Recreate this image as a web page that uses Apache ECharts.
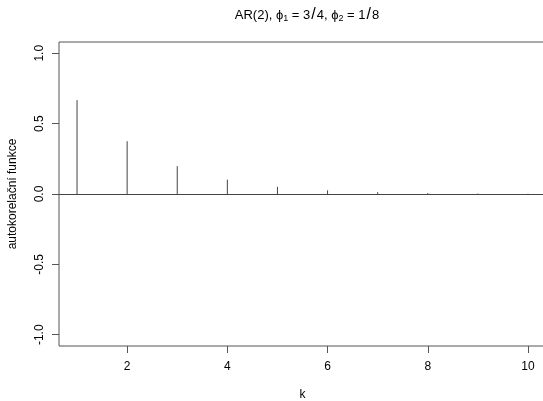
<!DOCTYPE html>
<html>
<head>
<meta charset="utf-8">
<script src="https://cdn.jsdelivr.net/npm/echarts@6/dist/echarts.min.js"></script>
<style>html,body{margin:0;padding:0;background:#fff}#c{width:543px;height:401px}</style>
</head>
<body>
<div id="c"></div>
<script>
var lags = [1, 2, 3, 4, 5, 6, 7, 8, 9, 10];
var acf = [0.667, 0.375, 0.198, 0.102, 0.051, 0.026, 0.013, 0.0065, 0.0033, 0.0017];
var xTicks = [2, 4, 6, 8, 10];
var yTicks = [-1, -0.5, 0, 0.5, 1];

var chart = echarts.init(document.getElementById('c'), null, {renderer: 'canvas'});
var font = 'Liberation Sans, Arial, sans-serif';
var data = lags.map(function (k, i) { return [k, acf[i]]; });

chart.setOption({
  animation: false,
  backgroundColor: '#fff',
  title: {
    text: '{n|AR(2), ϕ}{s|1}{n| = 3}{sl|/}{n|4, ϕ}{s|2}{n| = 1}{sl|/}{n|8}',
    left: 302, top: 2, textAlign: 'center',
    textStyle: {
      fontWeight: 'normal',
      rich: {
        n: {fontFamily: font, fontSize: 13, fontWeight: 'normal', color: '#000'},
        s: {fontFamily: font, fontSize: 9, fontWeight: 'normal', color: '#000', verticalAlign: 'bottom', padding: [6, 0, 0, 0]},
        sl: {fontFamily: font, fontSize: 16, fontWeight: 'normal', color: '#000', padding: [0, 1, 0, 1]}
      }
    }
  },
  grid: {left: 59, right: -3, top: 42, bottom: 55, outerBoundsMode: 'none', containLabel: false,
    show: true, borderColor: '#555', borderWidth: 1, backgroundColor: 'transparent'},
  xAxis: {
    type: 'value', min: 0.64, max: 10.36,
    name: 'k', nameLocation: 'middle', nameGap: 43,
    nameTextStyle: {fontFamily: font, fontSize: 12, color: '#000'},
    axisLine: {show: false, onZero: false},
    splitLine: {show: false},
    axisTick: {show: true, customValues: xTicks, length: 7, lineStyle: {color: '#555'}},
    axisLabel: {customValues: xTicks, fontFamily: font, fontSize: 12, color: '#000', margin: 15}
  },
  yAxis: {
    type: 'value', min: -1.08, max: 1.08,
    name: 'autokorelační funkce', nameLocation: 'middle', nameGap: 40, nameRotate: 90,
    nameTextStyle: {fontFamily: font, fontSize: 12, color: '#000'},
    axisLine: {show: false, onZero: false},
    splitLine: {show: false},
    axisTick: {show: true, customValues: yTicks, length: 7, lineStyle: {color: '#555'}},
    axisLabel: {customValues: yTicks, rotate: 90, fontFamily: font, fontSize: 12, color: '#000', margin: 13,
      formatter: function (v) { return v.toFixed(1); }}
  },
  series: [{
    type: 'custom',
    data: data,
    renderItem: function (params, api) {
      var p0 = api.coord([api.value(0), 0]);
      var p1 = api.coord([api.value(0), api.value(1)]);
      return {type: 'line', shape: {x1: p0[0], y1: p0[1], x2: p1[0], y2: p1[1]},
        style: {stroke: '#444', lineWidth: 1}};
    },
    markLine: {
      silent: true, symbol: 'none', label: {show: false},
      lineStyle: {color: '#444', type: 'solid', width: 1},
      data: [{yAxis: 0}]
    }
  }]
});
</script>
</body>
</html>
